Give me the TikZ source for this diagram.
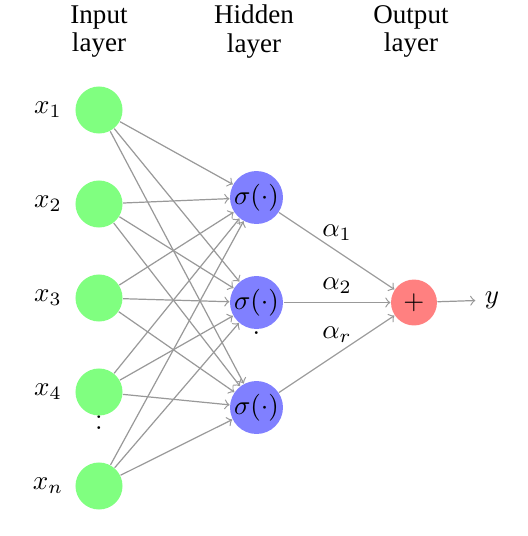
\documentclass[tikz,border=0pt]{standalone}
\usepackage[no-math]{fontspec}
\setmainfont{Liberation Serif}
\begin{document}
\begin{tikzpicture}[x=0.37pt, y=-0.37pt,
  neuron/.style={circle, inner sep=0pt, minimum size=17.4pt},
  link/.style={->, gray!80, line width=0.45pt},
  dotcol/.style={anchor=base, inner sep=0pt},
  heading/.style={align=center, font=\fontsize{10}{10.4}\selectfont}]
  \useasboundingbox (0,0) rectangle (528,536);

  % Vertical dots below x_4 and below the middle hidden neuron
  \node[dotcol] (dotsin) at (99,429.5)
    {\vbox{\baselineskip4pt\lineskiplimit0pt\hbox{$.$}\hbox{$.$}}};
  \node[dotcol] (dotshid) at (256.5,334.5) {$.$};

  % Input layer
  \foreach \y/\lab [count=\k] in {110/1, 204/2, 298/3, 392/4, 486/n} {
    \node[neuron, fill=green!50] (in-\k) at (99,\y) {};
    \node (lab-\k) at (48,\y) {$x_{\lab}$};
  }

  % Hidden layer
  \foreach \y [count=\k] in {197.5, 302.5, 407.5}
    \node[neuron, fill=blue!50, minimum size=19.6pt] (hid-\k) at (256.5,\y) {$\sigma(\cdot)$};

  % Output layer
  \node[neuron, fill=red!50, minimum size=17pt] (out) at (414,302.5) {$+$};
  \node (y) at (492,300) {$y$};

  % Connections
  \foreach \i in {1,...,5}
    \foreach \j in {1,2,3}
      \draw[link] (in-\i) -- (hid-\j);
  \foreach \j in {1,2,3}
    \draw[link] (hid-\j) -- (out);
  \draw[link] (out) -- (y);

  % Weights
  \node (a1) at (337,233) {$\alpha_1$};
  \node (a2) at (337,286) {$\alpha_2$};
  \node (ar) at (337,335) {$\alpha_r$};

  % Headings
  \node[heading] (hin) at (99,31.5) {Input\\layer};
  \node[heading] (hhid) at (254,31.5) {Hidden\\layer};
  \node[heading] (hout) at (411,31.5) {Output\\layer};
\end{tikzpicture}
\end{document}
